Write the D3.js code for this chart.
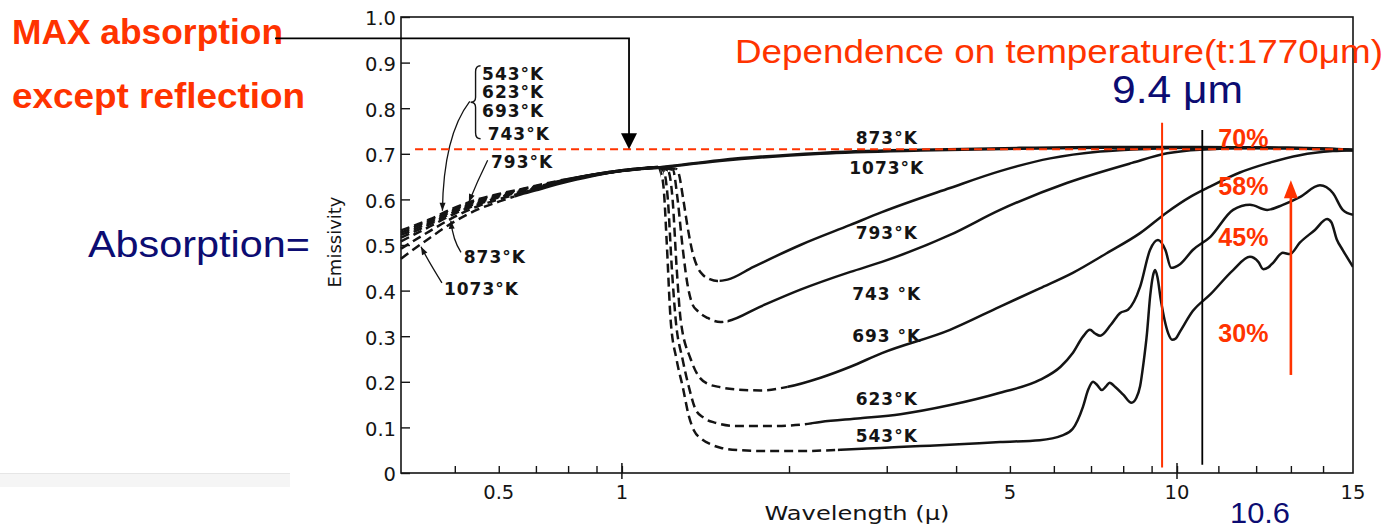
<!DOCTYPE html>
<html>
<head>
<meta charset="utf-8">
<script src="https://cdn.jsdelivr.net/npm/d3@7"></script>
<style>
  html, body { margin: 0; padding: 0; background: #fff; }
  svg { display: block; }
</style>
</head>
<body>
<svg id="chart" width="1386" height="528"></svg>
<script>
// ---------- data: spectral emissivity of glass vs. wavelength (μ) ----------
const temperatures = [543, 623, 693, 743, 793, 873, 1073];

// short-wavelength part, shared wavelength grid
const headWavelengths = [0.40, 0.45, 0.50, 0.55, 0.60, 0.65, 0.70, 0.80, 0.90, 1.00, 1.10, 1.16];
const head543  = [0.532, 0.556, 0.582, 0.600, 0.612, 0.621, 0.630, 0.645, 0.656, 0.664, 0.669, 0.671];
const head623  = [0.527, 0.553, 0.579, 0.598, 0.610, 0.620, 0.629, 0.644, 0.656, 0.664, 0.669, 0.671];
const head693  = [0.522, 0.549, 0.576, 0.595, 0.608, 0.619, 0.628, 0.643, 0.655, 0.663, 0.668, 0.670];
const head743  = [0.516, 0.545, 0.573, 0.592, 0.606, 0.617, 0.627, 0.643, 0.655, 0.663, 0.668, 0.670];
const head793  = [0.508, 0.540, 0.569, 0.589, 0.604, 0.615, 0.625, 0.642, 0.654, 0.663, 0.668, 0.670];
const head873  = [0.492, 0.530, 0.562, 0.585, 0.600, 0.612, 0.623, 0.641, 0.654, 0.663, 0.668, 0.670];
const head1073 = [0.470, 0.515, 0.552, 0.578, 0.595, 0.609, 0.620, 0.639, 0.653, 0.662, 0.667, 0.669];

// long-wavelength part, [wavelength, emissivity]
const tail543 = [[1.175,0.660],[1.19,0.62],[1.205,0.50],[1.224,0.336],[1.255,0.248],[1.287,0.189],[1.32,0.125],
  [1.35,0.092],[1.39,0.075],[1.445,0.063],[1.51,0.055],[1.64,0.050],[1.85,0.048],[2.1,0.048],[2.48,0.051],
  [2.92,0.055],[3.45,0.059],[4.05,0.063],[4.8,0.068],[5.66,0.072],[6.2,0.082],[6.49,0.097],[6.77,0.145],
  [6.92,0.183],[7.06,0.200],[7.18,0.193],[7.32,0.182],[7.45,0.190],[7.56,0.198],[7.75,0.188],[8.0,0.172],
  [8.28,0.154],[8.45,0.165],[8.58,0.19],[8.7,0.24],[8.83,0.307],[8.95,0.39],[9.05,0.432],[9.13,0.445],
  [9.22,0.43],[9.35,0.38],[9.5,0.335],[9.65,0.305],[9.8,0.292],[9.95,0.295],[10.07,0.31],[10.37,0.355],
  [10.79,0.391],[11.38,0.445],[11.83,0.474],[12.06,0.463],[12.2,0.447],[12.34,0.451],[12.49,0.462],
  [12.76,0.483],[12.97,0.480],[13.27,0.505],[13.74,0.533],[14.13,0.557],[14.27,0.550],[14.45,0.512],
  [14.65,0.489],[15.0,0.452]];
const tail623 = [[1.19,0.662],[1.21,0.60],[1.23,0.45],[1.25,0.336],[1.287,0.248],[1.32,0.189],[1.358,0.139],
  [1.404,0.121],[1.475,0.110],[1.604,0.103],[1.85,0.103],[2.097,0.106],[2.28,0.112],[2.69,0.120],
  [3.175,0.129],[3.905,0.149],[4.8,0.176],[5.66,0.204],[6.17,0.233],[6.49,0.263],[6.77,0.299],[6.97,0.314],
  [7.12,0.306],[7.27,0.301],[7.6,0.325],[7.9,0.351],[8.16,0.358],[8.58,0.408],[8.94,0.489],[9.24,0.511],
  [9.53,0.489],[9.76,0.450],[10.07,0.458],[10.37,0.489],[10.8,0.518],[11.38,0.577],[11.83,0.588],
  [12.31,0.577],[12.76,0.588],[13.27,0.605],[13.9,0.631],[14.32,0.614],[14.65,0.577],[15.0,0.566]];
const tail693 = [[1.21,0.664],[1.234,0.60],[1.255,0.45],[1.276,0.336],[1.33,0.25],[1.37,0.215],[1.42,0.197],
  [1.506,0.188],[1.617,0.183],[1.777,0.181],[1.99,0.189],[2.28,0.209],[2.58,0.233],[2.94,0.263],
  [3.9,0.314],[4.8,0.365],[5.66,0.405],[6.49,0.439],[7.47,0.482],[8.58,0.526],[9.6,0.572],[10.3,0.605],
  [10.79,0.628],[11.56,0.659],[12.31,0.679],[13.27,0.697],[14.32,0.706],[15.0,0.708]];
const tail743 = [[1.235,0.665],[1.26,0.60],[1.285,0.50],[1.31,0.42],[1.34,0.37],[1.37,0.355],[1.427,0.340],
  [1.506,0.331],[1.55,0.333],[1.777,0.365],[2.097,0.402],[2.58,0.441],[2.94,0.463],[3.9,0.522],
  [4.8,0.577],[6.33,0.636],[8.3,0.680],[9.6,0.701],[10.54,0.709],[11.83,0.712],[13.27,0.712],[15.0,0.708]];
const tail793 = [[1.25,0.667],[1.265,0.658],[1.29,0.60],[1.313,0.540],[1.341,0.483],[1.37,0.45],[1.398,0.435],
  [1.44,0.425],[1.487,0.421],[1.55,0.424],[1.726,0.452],[2.097,0.500],[2.58,0.544],[2.94,0.572],
  [3.9,0.625],[4.8,0.662],[5.91,0.690],[7.27,0.705],[8.94,0.711],[10.5,0.713],[12.9,0.713],[15.0,0.709]];
const tail873  = [[1.2,0.672],[1.5,0.686],[2.28,0.702],[3.45,0.709],[5.2,0.713],[7.27,0.715],[10.5,0.715],[12.9,0.713],[15.0,0.709]];
const tail1073 = [[1.2,0.671],[1.5,0.684],[2.28,0.700],[3.45,0.707],[5.2,0.711],[7.27,0.713],[10.5,0.714],[12.9,0.712],[15.0,0.708]];

// wavelength spans drawn as solid lines (the rest of each curve is dashed)
const solid543  = [[0.78, 1.175], [2.45, 15]];
const solid623  = [[0.76, 1.19],  [2.2, 15]];
const solid693  = [[0.74, 1.21],  [1.99, 15]];
const solid743  = [[0.72, 1.235], [1.55, 15]];
const solid793  = [[0.70, 1.25],  [1.5, 15]];
const solid873  = [[0.66, 15]];
const solid1073 = [[0.64, 15]];

// curve labels: text and [wavelength, emissivity] of the baseline anchor
const curveLabelText = ["873°K", "1073°K", "793°K", "743 °K", "693 °K", "623°K", "543°K"];
const curveLabelAt   = [[3.0,0.7215],[3.0,0.656],[3.0,0.513],[3.0,0.380],[3.0,0.287],[3.0,0.149],[3.0,0.068]];
const groupLabelText = ["543°K", "623°K", "693°K", "743°K"];
const groupLabelAt   = [[0.560,0.862],[0.560,0.822],[0.560,0.781],[0.573,0.730]];
const sideLabelText  = ["793°K", "873°K", "1073°K"];
const sideLabelAt    = [[0.581,0.669],[0.519,0.4605],[0.478,0.390]];

// axis ticks
const xTickValuesLow  = [0.5, 0.6, 0.7, 0.8, 0.9, 1, 2, 3, 4, 5, 6, 7, 8, 9, 10];
const xTickValuesHigh = [11, 12, 13, 14];
const xMajorTicks = [1, 10];
const xLabelText = ["0.5", "1", "5", "10", "15"];
const xLabelAt   = [0.6, 1, 5, 10, 15];
const yTickValues = [0, 0.1, 0.2, 0.3, 0.4, 0.5, 0.6, 0.7, 0.8, 0.9, 1.0];

// annotation values
const maxEmissivity = 0.71;
const markedWavelengths = [9.4, 10.6];
const percentText = ["70%", "58%", "45%", "30%"];
const percentAt   = [0.715, 0.610, 0.498, 0.287];

// ---------- layout ----------
const plot = { left: 401, right: 1353, top: 17, bottom: 473 };
const breakX = 1177;            // the axis changes decade length above 10 μ
const RED = "#ff3300", NAVY = "#0c0c72", INK = "#141414";

const xLow  = d3.scaleLog().domain([0.4, 10]).range([plot.left, breakX]);
const xHigh = d3.scaleLog().domain([10, 15]).range([breakX, plot.right]);
const x = w => (w <= 10 ? xLow(w) : xHigh(w));
const y = d3.scaleLinear().domain([0, 1]).range([plot.bottom, plot.top]);

const svg = d3.select("#chart");
const defs = svg.append("defs");

// faint band at the lower left of the page
svg.append("rect").attr("x", 0).attr("y", 473).attr("width", 290).attr("height", 14).attr("fill", "#f5f5f5");
svg.append("line").attr("x1", 0).attr("x2", 290).attr("y1", 473.5).attr("y2", 473.5).attr("stroke", "#e6e6e6");

// ---------- frame and axes ----------
svg.append("rect")
  .attr("x", plot.left).attr("y", plot.top)
  .attr("width", plot.right - plot.left).attr("height", plot.bottom - plot.top)
  .attr("fill", "none").attr("stroke", INK).attr("stroke-width", 1.6);

const tickFont = "DejaVu Sans, Verdana, sans-serif";

const yAxis = svg.append("g").attr("transform", `translate(${plot.left},0)`)
  .call(d3.axisLeft(y).tickValues(yTickValues).tickSize(-9).tickPadding(5)
    .tickFormat(v => (v === 0 ? "0" : v.toFixed(1))));
yAxis.select(".domain").remove();
yAxis.selectAll("line").attr("stroke", INK).attr("stroke-width", 1.4);
yAxis.selectAll("text").attr("font-family", tickFont).attr("font-size", 19.5).attr("fill", INK).attr("dy", "0.4em");

[[xLow, xTickValuesLow], [xHigh, xTickValuesHigh]].forEach(([sc, vals]) => {
  const g = svg.append("g").attr("transform", `translate(0,${plot.bottom})`)
    .call(d3.axisBottom(sc).tickValues(vals).tickSize(-7).tickFormat(""));
  g.select(".domain").remove();
  g.selectAll("line").attr("stroke", INK).attr("stroke-width", 1.4);
});
xMajorTicks.forEach(t => {
  svg.append("line").attr("x1", x(t)).attr("x2", x(t))
    .attr("y1", plot.bottom - 10).attr("y2", plot.bottom + 6)
    .attr("stroke", INK).attr("stroke-width", 1.5);
});
xLabelText.forEach((t, i) => {
  svg.append("text").attr("x", x(xLabelAt[i])).attr("y", 499)
    .attr("text-anchor", "middle").attr("font-family", tickFont).attr("font-size", 19.5)
    .attr("fill", INK).text(t);
});
svg.append("text").attr("x", 857).attr("y", 520).attr("text-anchor", "middle")
  .attr("font-family", tickFont).attr("font-size", 20).attr("fill", INK)
  .attr("textLength", 185).attr("lengthAdjust", "spacingAndGlyphs").text("Wavelength (μ)");
svg.append("text").attr("transform", "translate(341,242) rotate(-90)").attr("text-anchor", "middle")
  .attr("font-family", tickFont).attr("font-size", 18).attr("fill", INK).text("Emissivity");

// ---------- curves ----------
const series = [
  { t: 543,  head: head543,  tail: tail543,  solid: solid543 },
  { t: 623,  head: head623,  tail: tail623,  solid: solid623 },
  { t: 693,  head: head693,  tail: tail693,  solid: solid693 },
  { t: 743,  head: head743,  tail: tail743,  solid: solid743 },
  { t: 793,  head: head793,  tail: tail793,  solid: solid793 },
  { t: 873,  head: head873,  tail: tail873,  solid: solid873 },
  { t: 1073, head: head1073, tail: tail1073, solid: solid1073 }
].map(s => ({ ...s, points: headWavelengths.map((w, i) => [w, s.head[i]]).concat(s.tail) }));

const line = d3.line().x(d => x(d[0])).y(d => y(d[1])).curve(d3.curveMonotoneX);

function complement(ranges, lo, hi) {
  const out = []; let cur = lo;
  ranges.forEach(([a, b]) => { if (a > cur) out.push([cur, a]); cur = Math.max(cur, b); });
  if (cur < hi) out.push([cur, hi]);
  return out;
}
function makeClip(id, ranges) {
  const cp = defs.append("clipPath").attr("id", id);
  ranges.forEach(([a, b]) => {
    cp.append("rect").attr("x", x(a)).attr("y", 0).attr("width", x(b) - x(a)).attr("height", 528);
  });
  return `url(#${id})`;
}

const curves = svg.append("g").attr("fill", "none").attr("stroke", INK).attr("stroke-width", 2.5);
series.forEach(s => {
  const d = line(s.points);
  curves.append("path").attr("d", d)
    .attr("stroke-dasharray", "9,5")
    .attr("clip-path", makeClip(`dash-${s.t}`, complement(s.solid, 0.38, 15.5)));
  curves.append("path").attr("d", d)
    .attr("clip-path", makeClip(`solid-${s.t}`, s.solid));
});

// ---------- curve labels ----------
const labelFont = "DejaVu Sans, Verdana, sans-serif";
function tempLabel(txt, at, anchor) {
  svg.append("text").attr("x", x(at[0])).attr("y", y(at[1]))
    .attr("text-anchor", anchor).attr("font-family", labelFont).attr("font-weight", "bold")
    .attr("font-size", 17).attr("letter-spacing", 1).attr("fill", INK).text(txt);
}
curveLabelText.forEach((t, i) => tempLabel(t, curveLabelAt[i], "middle"));
groupLabelText.forEach((t, i) => tempLabel(t, groupLabelAt[i], "start"));
sideLabelText.forEach((t, i) => tempLabel(t, sideLabelAt[i], "start"));

// brace grouping the four low-temperature labels
(function () {
  const bx = x(0.545), y1 = y(0.893), y2 = y(0.733), ym = (y1 + y2) / 2;
  const p = d3.path();
  p.moveTo(bx + 5, y1);
  p.quadraticCurveTo(bx, y1, bx, y1 + 6);
  p.lineTo(bx, ym - 5);
  p.quadraticCurveTo(bx, ym, bx - 5, ym);
  p.quadraticCurveTo(bx, ym, bx, ym + 5);
  p.lineTo(bx, y2 - 6);
  p.quadraticCurveTo(bx, y2, bx + 5, y2);
  svg.append("path").attr("d", p.toString()).attr("fill", "none").attr("stroke", INK).attr("stroke-width", 1.4);
})();

// small leader arrows from labels to the curves
function leader(from, ctrl, to, color, width, head) {
  const P = [x(from[0]), y(from[1])], C = [x(ctrl[0]), y(ctrl[1])], T = [x(to[0]), y(to[1])];
  const p = d3.path(); p.moveTo(P[0], P[1]); p.quadraticCurveTo(C[0], C[1], T[0], T[1]);
  svg.append("path").attr("d", p.toString()).attr("fill", "none").attr("stroke", color).attr("stroke-width", width);
  const a = Math.atan2(T[1] - C[1], T[0] - C[0]);
  const L = head[0], Wd = head[1] / 2;
  const bx = T[0] - L * Math.cos(a), by = T[1] - L * Math.sin(a);
  svg.append("path")
    .attr("d", `M${T[0]},${T[1]}L${bx - Wd * Math.sin(a)},${by + Wd * Math.cos(a)}L${bx + Wd * Math.sin(a)},${by - Wd * Math.cos(a)}Z`)
    .attr("fill", color);
}
leader([0.532, 0.815], [0.477, 0.74], [0.475, 0.575], INK, 1.3, [8, 6]);
leader([0.573, 0.686], [0.548, 0.638], [0.530, 0.594], INK, 1.3, [8, 6]);
leader([0.513, 0.484], [0.496, 0.511], [0.492, 0.553], INK, 1.3, [8, 6]);
leader([0.474, 0.417], [0.449, 0.463], [0.4346, 0.496], INK, 1.3, [8, 6]);

// ---------- annotations ----------
// maximum absorption level
svg.append("line")
  .attr("x1", x(0.424)).attr("x2", x(14.66))
  .attr("y1", y(maxEmissivity)).attr("y2", y(maxEmissivity))
  .attr("stroke", RED).attr("stroke-width", 2).attr("stroke-dasharray", "8,5");

// marked wavelengths
svg.append("line").attr("x1", x(markedWavelengths[0])).attr("x2", x(markedWavelengths[0]))
  .attr("y1", y(0.768)).attr("y2", y(0.012)).attr("stroke", RED).attr("stroke-width", 2);
svg.append("line").attr("x1", x(markedWavelengths[1])).attr("x2", x(markedWavelengths[1]))
  .attr("y1", y(0.752)).attr("y2", y(0.018)).attr("stroke", "#000").attr("stroke-width", 1.8);

// rising arrow beside the percentages
(function () {
  const ax = x(13.0), y0 = y(0.215), yt = y(0.642);
  svg.append("line").attr("x1", ax).attr("x2", ax).attr("y1", y0).attr("y2", yt + 16)
    .attr("stroke", RED).attr("stroke-width", 2.6);
  svg.append("path").attr("d", `M${ax},${yt}L${ax - 7},${yt + 18}L${ax + 7},${yt + 18}Z`).attr("fill", RED);
})();

percentText.forEach((t, i) => {
  svg.append("text").attr("x", x(11.0)).attr("y", y(percentAt[i]))
    .attr("font-family", "Liberation Sans, Arial, sans-serif").attr("font-weight", "bold")
    .attr("font-size", 25).attr("fill", RED).text(t);
});

// overlay texts
const sans = "Liberation Sans, Arial, sans-serif";
function note(txt, px, py, size, weight, color, len) {
  svg.append("text").attr("x", px).attr("y", py)
    .attr("font-family", sans).attr("font-weight", weight).attr("font-size", size)
    .attr("fill", color).attr("textLength", len).attr("lengthAdjust", "spacingAndGlyphs").text(txt);
}
note("MAX absorption", 12, 44, 35, "bold", RED, 271);
note("except reflection", 12, 108, 35, "bold", RED, 293);
note("Dependence on temperature(t:1770μm)", 735, 63, 33, "normal", RED, 648);
note("9.4 μm", 1112, 103, 38, "normal", NAVY, 131);
note("Absorption=", 88, 257, 37, "normal", NAVY, 222);
note("10.6", 1230, 523, 29, "normal", NAVY, 60);

// leader from the "MAX absorption" note down to the maximum level
(function () {
  const xs = 275, xa = x(1.03), yh = y(0.953), yt = y(maxEmissivity);
  svg.append("path").attr("d", `M${xs},${yh}H${xa}V${yt - 14}`)
    .attr("fill", "none").attr("stroke", "#000").attr("stroke-width", 1.8);
  svg.append("path").attr("d", `M${xa},${yt}L${xa - 8},${yt - 16}L${xa + 8},${yt - 16}Z`).attr("fill", "#000");
})();
</script>
</body>
</html>
